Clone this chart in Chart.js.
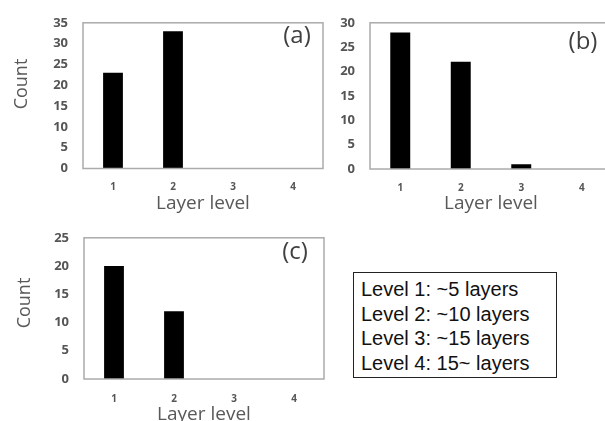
<!DOCTYPE html>
<html>
<head>
<meta charset="utf-8">
<script src="https://cdn.jsdelivr.net/npm/chart.js@4"></script>
<style>
  html, body { margin: 0; padding: 0; background: #fff; width: 605px; height: 421px; overflow: hidden; }
  canvas { position: absolute; }
  #legendBox {
    position: absolute; left: 353px; top: 272px; width: 202px; height: 104px;
    border: 1.5px solid #222; box-sizing: content-box;
    font-family: "Liberation Sans", Arial, sans-serif; font-size: 20px; line-height: 24.7px;
    color: #111; padding: 0;
  }
  #legendBox div { padding-left: 7px; white-space: nowrap; }
  #legendBox div:first-child { margin-top: 4px; }
</style>
</head>
<body>
<canvas id="chartA" width="330" height="215" style="left:0px;top:0px"></canvas>
<canvas id="chartB" width="340" height="215" style="left:287px;top:0px"></canvas>
<canvas id="chartC" width="330" height="215" style="left:0px;top:215px"></canvas>
<div id="legendBox"></div>
<script>
// ---- data ----
const categories = ['1', '2', '3', '4'];
const countsA = [23, 33, 0, 0];
const countsB = [28, 22, 1, 0];
const countsC = [20, 12, 0, 0];
const yMaxA = 35;
const yMaxB = 30;
const yMaxC = 25;
const yStep = 5;
const panelLabels = ['(a)', '(b)', '(c)'];
const xTitle = 'Layer level';
const yTitle = 'Count';
const legendLines = ['Level 1: ~5 layers', 'Level 2: ~10 layers', 'Level 3: ~15 layers', 'Level 4: 15~ layers'];

// ---- legend text box ----
const lb = document.getElementById('legendBox');
legendLines.forEach(t => { const d = document.createElement('div'); d.textContent = t; lb.appendChild(d); });

// ---- plugin: plot frame, panel label, y title ----
const annot = {
  id: 'annot',
  afterDraw(chart, args, o) {
    const { ctx, chartArea: a } = chart;
    ctx.save();
    ctx.strokeStyle = '#ababab';
    ctx.lineWidth = 1.5;
    ctx.strokeRect(a.left, a.top, a.right - a.left, a.bottom - a.top);
    ctx.fillStyle = '#404040';
    ctx.font = '24px "Open Sans"';
    ctx.textAlign = 'center';
    ctx.textBaseline = 'middle';
    ctx.fillText(o.label, o.labelX, o.labelY);
    if (o.count) {
      ctx.translate(o.countX, o.countY);
      ctx.rotate(-Math.PI / 2);
      ctx.fillStyle = '#595959';
      ctx.font = '18px "Open Sans"';
      ctx.fillText(yTitle, 0, 0);
    }
    ctx.restore();
  }
};

function makeChart(id, values, yMax, L) {
  return new Chart(document.getElementById(id), {
    type: 'bar',
    data: {
      labels: categories,
      datasets: [{ data: values, backgroundColor: '#000', borderWidth: 0,
                   barPercentage: 0.33, categoryPercentage: 1 }]
    },
    options: {
      responsive: false,
      animation: false,
      devicePixelRatio: 1,
      layout: { padding: { top: L.top, right: L.right, bottom: 0, left: 0 } },
      plugins: {
        legend: { display: false },
        tooltip: { enabled: false },
        annot: L.annot
      },
      scales: {
        x: {
          grid: { display: false, drawTicks: false },
          border: { display: false },
          ticks: { color: '#555', padding: L.xTickPad, font: { family: 'Open Sans', size: 10, weight: '700' } },
          title: { display: true, text: xTitle, color: '#595959',
                   font: { family: 'Open Sans', size: 19 }, padding: { top: 0, bottom: L.xTitlePad } },
          afterFit(s) { s.height = L.xHeight; }
        },
        y: {
          min: 0, max: yMax,
          grid: { display: false, drawTicks: false },
          border: { display: false },
          ticks: { stepSize: yStep, color: '#555', padding: 15,
                   font: { family: 'Open Sans', size: 13, weight: '700' } },
          afterFit(s) { s.width = L.yWidth; }
        }
      }
    },
    plugins: [annot]
  });
}

makeChart('chartA', countsA, yMaxA, {
  top: 19, right: 7, yWidth: 83, xHeight: 46.5, xTickPad: 13, xTitlePad: 0,
  annot: { label: panelLabels[0], labelX: 297, labelY: 36, count: true, countX: 22, countY: 84 }
});
makeChart('chartB', countsB, yMaxB, {
  top: 20, right: 15, yWidth: 83, xHeight: 46, xTickPad: 13, xTitlePad: 0,
  annot: { label: panelLabels[1], labelX: 296, labelY: 42, count: false }
});
makeChart('chartC', countsC, yMaxC, {
  top: 16, right: 6, yWidth: 84, xHeight: 51, xTickPad: 14, xTitlePad: 4,
  annot: { label: panelLabels[2], labelX: 295, labelY: 37.5, count: true, countX: 25, countY: 88 }
});
</script>
</body>
</html>
